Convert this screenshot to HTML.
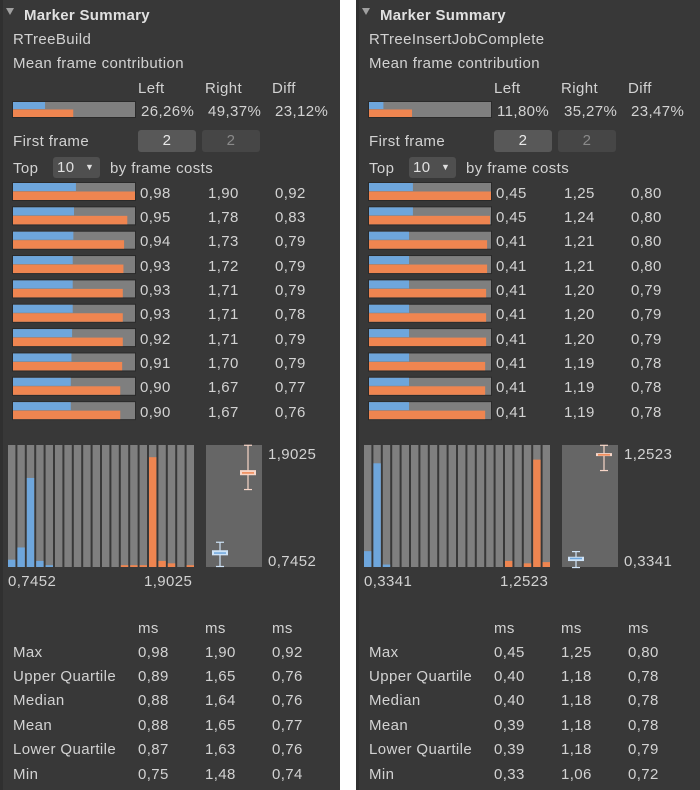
<!DOCTYPE html>
<html><head><meta charset="utf-8">
<style>
html,body{margin:0;padding:0;background:#fff;}
body{width:700px;height:790px;position:relative;overflow:hidden;font-family:"Liberation Sans","DejaVu Sans",sans-serif;font-size:15px;letter-spacing:0.4px;color:#d2d2d2;}
.panel{position:absolute;top:0;width:340px;height:790px;background:#383838;}
.panel .edge{position:absolute;left:0;top:0;width:3px;height:790px;background:#303030;}
.t{position:absolute;white-space:nowrap;line-height:16px;}
.btn{position:absolute;border-radius:3px;text-align:center;line-height:22px;}
svg{position:absolute;left:0;top:0;}
</style></head><body>
<div class="panel" id="p0" style="left:0"><div class="edge"></div></div>
<div class="panel" id="p1" style="left:356px;width:344px"><div class="edge"></div></div>
<script>
// ---- data ----
const names = ["RTreeBuild","RTreeInsertJobComplete"];
const contribLabels = [["26,26%","49,37%","23,12%"],["11,80%","35,27%","23,47%"]];
const contribLeft = [26.26, 11.80];
const contribRight = [49.37, 35.27];
const topLeft0 = [0.98,0.95,0.94,0.93,0.93,0.93,0.92,0.91,0.90,0.90];
const topRight0 = [1.90,1.78,1.73,1.72,1.71,1.71,1.71,1.70,1.67,1.67];
const topDiff0 = [0.92,0.83,0.79,0.79,0.79,0.78,0.79,0.79,0.77,0.76];
const topLeft1 = [0.45,0.45,0.41,0.41,0.41,0.41,0.41,0.41,0.41,0.41];
const topRight1 = [1.25,1.24,1.21,1.21,1.20,1.20,1.20,1.19,1.19,1.19];
const topDiff1 = [0.80,0.80,0.80,0.80,0.79,0.79,0.79,0.78,0.78,0.78];
const histLeft0 = [0.06,0.16,0.73,0.05,0.015,0,0,0,0,0,0,0,0,0,0,0,0,0,0,0];
const histRight0 = [0,0,0,0,0,0,0,0,0,0,0,0,0.015,0.015,0.015,0.9,0.05,0.03,0,0.015];
const histLeft1 = [0.13,0.85,0.02,0,0,0,0,0,0,0,0,0,0,0,0,0,0,0,0,0];
const histRight1 = [0,0,0,0,0,0,0,0,0,0,0,0,0,0,0,0.05,0,0.03,0.88,0.04];
const rangeMin = [0.7452, 0.3341];
const rangeMax = [1.9025, 1.2523];
const rangeLabels = [["0,7452","1,9025"],["0,3341","1,2523"]];
const statNames = ["Max","Upper Quartile","Median","Mean","Lower Quartile","Min"];
const statLeft0 = [0.98,0.89,0.88,0.88,0.87,0.75];
const statRight0 = [1.90,1.65,1.64,1.65,1.63,1.48];
const statDiff0 = [0.92,0.76,0.76,0.77,0.76,0.74];
const statLeft1 = [0.45,0.40,0.40,0.39,0.39,0.33];
const statRight1 = [1.25,1.18,1.18,1.18,1.18,1.06];
const statDiff1 = [0.80,0.78,0.78,0.78,0.79,0.72];
// ---- render ----
const BLUE="#6ea6dc", ORANGE="#ef8550", GREY="#7f7f7f";
const fmt = v => v.toFixed(2).replace('.',',');
const NS="http://www.w3.org/2000/svg";
function txt(p,x,y,s,name,extra){const d=document.createElement('div');d.className='t';d.style.left=x+'px';d.style.top=(y-6.5)+'px';d.textContent=s;if(extra)d.style.cssText+=extra;


p.appendChild(d);return d;}
function rect(svg,x,y,w,h,fill,name){const r=document.createElementNS(NS,'rect');r.setAttribute('x',x);r.setAttribute('y',y);r.setAttribute('width',Math.max(0,w));r.setAttribute('height',Math.max(0,h));r.setAttribute('fill',fill);


svg.appendChild(r);return r;}
function line(svg,x1,y1,x2,y2,c,w){const l=document.createElementNS(NS,'line');l.setAttribute('x1',x1);l.setAttribute('y1',y1);l.setAttribute('x2',x2);l.setAttribute('y2',y2);l.setAttribute('stroke',c);l.setAttribute('stroke-width',w||1);


svg.appendChild(l);}
function compBar(svg,y,h,l,r,max,name){const x=13,W=122;
rect(svg,x-1,y-1,W+2,h+2,"#2a2a2a",name+'-border');rect(svg,x,y,W,h,GREY,name+'-bg');
const hh=h/2;rect(svg,x,y,W*Math.min(1,l/max),hh-0.5,BLUE,name+'-left');rect(svg,x,y+hh,W*Math.min(1,r/max),hh,ORANGE,name+'-right');}
function render(i){
 const p=document.getElementById('p'+i);
 const svg=document.createElementNS(NS,'svg');svg.setAttribute('width',344);svg.setAttribute('height',790);p.appendChild(svg);
 const tri=document.createElementNS(NS,'polygon');tri.setAttribute('points','6,8 14,8 10,15');tri.setAttribute('fill','#a0a0a0');
 
 
 svg.appendChild(tri);
 txt(p,24,14,"Marker Summary",'panel-title','font-weight:bold;color:#e0e0e0;font-size:15px;letter-spacing:0.3px');
 txt(p,13,38,names[i],'marker-name');
 txt(p,13,62,"Mean frame contribution",'contribution-label');
 const cx=[138,205,272];
 ["Left","Right","Diff"].forEach((s,k)=>txt(p,cx[k],87,s,'column-header-'+s.toLowerCase()));
 compBar(svg,102,15,contribLeft[i],contribRight[i],100,'contribution-bar');
 contribLabels[i].forEach((s,k)=>txt(p,cx[k]+3,110,s,'contribution-value'));
 txt(p,13,140,"First frame",'first-frame-label');
 const b1=document.createElement('div');b1.className='btn';b1.style.cssText='left:138px;top:130px;width:58px;height:22px;background:#585858;color:#e8e8e8';b1.textContent='2';
 
 
 p.appendChild(b1);
 const b2=document.createElement('div');b2.className='btn';b2.style.cssText='left:202px;top:130px;width:58px;height:22px;background:#464646;color:#8a8a8a';b2.textContent='2';
 
 
 p.appendChild(b2);
 txt(p,13,167,"Top",'top-label');
 const dd=document.createElement('div');dd.className='btn';dd.style.cssText='left:53px;top:157px;width:47px;height:21px;line-height:21px;background:#4f4f4f;text-align:left;padding-left:4px;box-sizing:border-box;color:#e0e0e0';dd.innerHTML='10 <span style="font-size:9px;position:absolute;left:32px">&#9660;</span>';
 
 
 p.appendChild(dd);
 txt(p,110,167,"by frame costs",'by-frame-costs-label');
 const TL=i?topLeft1:topLeft0, TR=i?topRight1:topRight0, TD=i?topDiff1:topDiff0;
 const tmax=Math.max(...TR,...TL);
 TL.forEach((v,k)=>{const y=183+k*24.35;compBar(svg,y,17,v,TR[k],tmax,'top-frame-bar-'+(k+1));
   txt(p,140,y+9,fmt(v),'top-left-value');txt(p,208,y+9,fmt(TR[k]),'top-right-value');txt(p,275,y+9,fmt(TD[k]),'top-diff-value');});
 // histogram
 const HL=i?histLeft1:histLeft0, HR=i?histRight1:histRight0;
 const hx=8,hy=445,hw=188,hh=122,n=HL.length,pitch=hw/n;
 HL.forEach((v,k)=>{const x=hx+k*pitch;rect(svg,x,hy,pitch-2,hh,GREY,'hist-bin-'+k);
   rect(svg,x,hy+hh-hh*v,pitch-2,hh*v,BLUE,'hist-left-'+k);rect(svg,x,hy+hh-hh*HR[k],pitch-2,hh*HR[k],ORANGE,'hist-right-'+k);});
 txt(p,8,580,rangeLabels[i][0],'hist-min-label');txt(p,144,580,rangeLabels[i][1],'hist-max-label');
 // box plot
 const bx=206,bw=56;rect(svg,bx,hy,bw,hh,"#666666",'boxplot-area');
 const ys=v=>hy+hh*(rangeMax[i]-v)/(rangeMax[i]-rangeMin[i]);
 const SL=i?statLeft1:statLeft0, SR=i?statRight1:statRight0;
 [[SL,bx+14,"#cfe3f7",BLUE],[SR,bx+42,"#f7d6c8",ORANGE]].forEach(([S,x,c,f])=>{
   line(svg,x,ys(S[0]),x,ys(S[5]),c,1.2);line(svg,x-4,ys(S[0]),x+4,ys(S[0]),c,1.2);line(svg,x-4,ys(S[5]),x+4,ys(S[5]),c,1.2);
   const t=ys(S[1]),b=ys(S[4]);rect(svg,x-8,Math.min(t,b)-1.5,16,Math.abs(b-t)+3,c,'boxplot-box');
   rect(svg,x-6,ys(S[2])-0.5,12,1.5,f,'boxplot-median');});
 txt(p,268,453,rangeLabels[i][1],'boxplot-max-label');txt(p,268,560,rangeLabels[i][0],'boxplot-min-label');
 // stats
 const SD=i?statDiff1:statDiff0;
 ["ms","ms","ms"].forEach((s,k)=>txt(p,cx[k],627,s,'unit-header'));
 statNames.forEach((s,k)=>{const y=651+k*24.4;txt(p,13,y,s,'stat-name');txt(p,138,y,fmt(SL[k]),'stat-left');txt(p,205,y,fmt(SR[k]),'stat-right');txt(p,272,y,fmt(SD[k]),'stat-diff');});
}
render(0);render(1);
</script>
</body></html>
